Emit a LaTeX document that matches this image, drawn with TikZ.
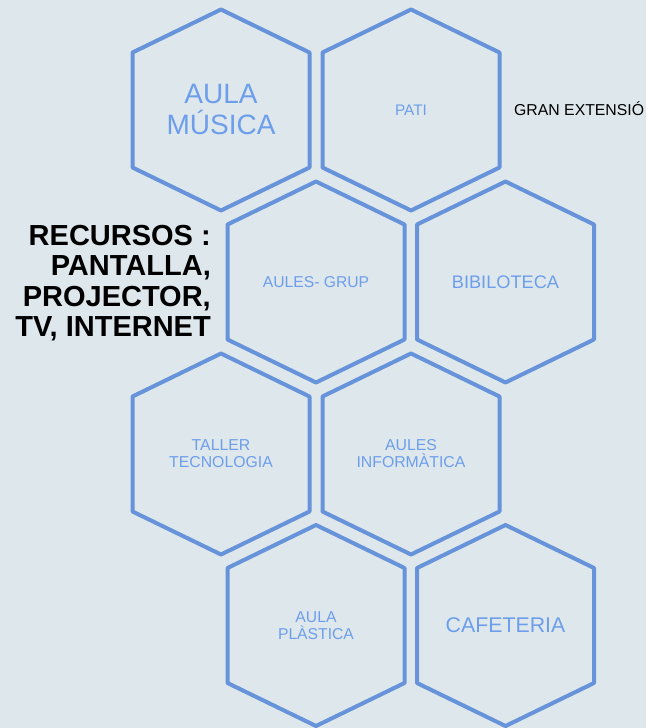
\documentclass[tikz,border=0pt]{standalone}
\usepackage{fontspec}
\setmainfont{Liberation Sans}
\definecolor{bg}{RGB}{222,231,235}
\definecolor{hexc}{RGB}{102,147,218}
\definecolor{txtc}{RGB}{109,158,235}
\newcommand\hexagonat[1]{\draw[hexa] ([shift={(0,-100.5)}]#1.center) -- ([shift={(88.5,-57.5)}]#1.center) -- ([shift={(88.5,57.5)}]#1.center) -- ([shift={(0,100.5)}]#1.center) -- ([shift={(-88.5,57.5)}]#1.center) -- ([shift={(-88.5,-57.5)}]#1.center) -- cycle;}
\begin{document}
\begin{tikzpicture}[x=1pt,y=-1pt,
  hexa/.style={draw=hexc, line width=4pt, line join=round},
  lbl/.style={text=txtc, align=center, inner sep=0pt}]
\fill[bg] (0,0) rectangle (646,728);
\useasboundingbox (0,0) rectangle (646,728);
\node[lbl, font=\fontsize{28}{31}\selectfont] (mus) at (221,110) {AULA\\MÚSICA};
\node[lbl, font=\fontsize{15.3}{17}\selectfont] (pati) at (411,110) {PATI};
\node[lbl, font=\fontsize{15.7}{17}\selectfont] (grup) at (316,282) {AULES- GRUP};
\node[lbl, font=\fontsize{18.2}{20}\selectfont] (bib) at (505.5,282) {BIBILOTECA};
\node[lbl, font=\fontsize{15.8}{17}\selectfont] (tall) at (221,454) {TALLER\\TECNOLOGIA};
\node[lbl, font=\fontsize{15.8}{17}\selectfont] (inf) at (411,454) {AULES\\INFORMÀTICA};
\node[lbl, font=\fontsize{15.7}{17}\selectfont] (pla) at (316,625.5) {AULA\\PLÀSTICA};
\node[lbl, font=\fontsize{21.3}{23}\selectfont] (caf) at (505.5,625.5) {CAFETERIA};
\hexagonat{mus}
\hexagonat{pati}
\hexagonat{grup}
\hexagonat{bib}
\hexagonat{tall}
\hexagonat{inf}
\hexagonat{pla}
\hexagonat{caf}
\node[inner sep=0pt, align=right, anchor=east, font=\bfseries\fontsize{29}{30.5}\selectfont] (rec) at (211,283) {RECURSOS :\\PANTALLA,\\PROJECTOR,\\TV, INTERNET};
\node[inner sep=0pt, anchor=base west, font=\fontsize{15.8}{17}\selectfont] (gran) at (514,115) {GRAN EXTENSIÓ};
\end{tikzpicture}
\end{document}
